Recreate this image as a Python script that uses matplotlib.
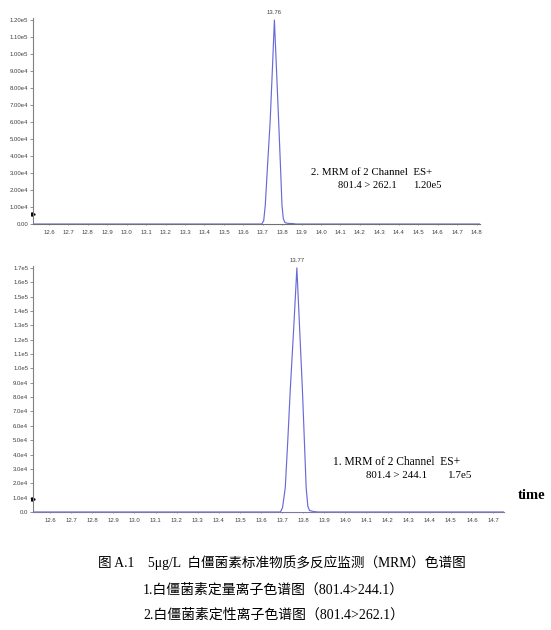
import numpy as np
import matplotlib
matplotlib.use('Agg')
import matplotlib.pyplot as plt

plt.rcParams['font.family'] = ['Liberation Sans', 'Noto Sans CJK SC']

# 通道2：801.4 > 262.1（定性离子）
top_time = [12.52, 13.695, 13.705, 13.713, 13.725, 13.738, 13.75, 13.76, 13.77,
            13.782, 13.792, 13.799, 13.806, 13.815, 13.83, 13.86, 13.87, 14.82]
top_signal = [0, 0, 2.0e3, 1.1e4, 3.5e4, 6.0e4, 9.2e4, 1.2e5, 9.3e4,
              6.0e4, 3.2e4, 1.1e4, 3.0e3, 8.0e2, 4.0e2, 2.0e2, 0, 0]
top_yticks = np.arange(0, 1.21e5, 1e4)
top_ylabels = ['0.00'] + ['%.2fe4' % (v / 1e4) for v in top_yticks[1:10]] + \
              ['%.2fe5' % (v / 1e5) for v in top_yticks[10:]]
top_xticks = np.round(np.arange(12.6, 14.85, 0.1), 1)

# 通道1：801.4 > 244.1（定量离子）
bot_time = [12.52, 13.692, 13.702, 13.715, 13.727, 13.739, 13.755, 13.77, 13.783,
            13.796, 13.806, 13.814, 13.822, 13.83, 13.85, 13.87, 14.76]
bot_signal = [0, 0, 3.0e3, 1.7e4, 5.0e4, 8.6e4, 1.28e5, 1.7e5, 1.28e5,
              8.6e4, 4.8e4, 1.7e4, 4.0e3, 1.0e3, 3.0e2, 0, 0]
bot_yticks = np.arange(0, 1.71e5, 1e4)
bot_ylabels = ['0.0'] + ['%.1fe4' % (v / 1e4) for v in bot_yticks[1:10]] + \
              ['%.1fe5' % (v / 1e5) for v in bot_yticks[10:]]
bot_xticks = np.round(np.arange(12.6, 14.75, 0.1), 1)

# 纵轴上的小标记
marker_level = [6.0e3, 9.0e3]

line_color = '#6a6ad6'
tick_color = '#404040'

fig = plt.figure(figsize=(5.51, 6.30), dpi=100)
ax1 = fig.add_axes([0.0599, 0.6444, 0.8113, 0.327])
ax2 = fig.add_axes([0.0599, 0.1873, 0.8548, 0.3897])


def setup_axis(ax, t, s, xlim, ylim, xticks, yticks, ylabels, xcolor):
    ax.plot(t, s, color=line_color, lw=0.85)
    ax.set_xlim(*xlim)
    ax.set_ylim(*ylim)
    ax.set_xticks(xticks)
    ax.set_xticklabels(['%.1f' % v for v in xticks])
    ax.set_yticks(yticks)
    ax.set_yticklabels(ylabels)
    for sp in ['top', 'right']:
        ax.spines[sp].set_visible(False)
    ax.spines['left'].set_color('#808080')
    ax.spines['bottom'].set_color(xcolor)
    ax.spines['left'].set_linewidth(0.8)
    ax.spines['bottom'].set_linewidth(0.8)
    ax.tick_params(axis='y', length=2, width=0.6, color='#808080', pad=1.5,
                   labelsize=4.3, labelcolor=tick_color)
    ax.tick_params(axis='x', length=1, width=0.5, color=xcolor, pad=3,
                   labelsize=4.3, labelcolor=tick_color)
    # 峰顶保留时间
    i = int(np.argmax(s))
    ax.annotate('%.2f' % t[i], (t[i], s[i]), xytext=(0, 3.5),
                textcoords='offset points', ha='center', va='bottom',
                fontsize=4.3, color=tick_color)


setup_axis(ax1, top_time, top_signal, (12.518, 14.818), (0, 1.212e5),
           top_xticks, top_yticks, top_ylabels, '#707070')
setup_axis(ax2, bot_time, bot_signal, (12.519, 14.752), (0, 1.71e5),
           bot_xticks, bot_yticks, bot_ylabels, '#7a7aa0')

ax1.plot([ax1.get_xlim()[0]], [marker_level[0]], marker='>', ms=2.5,
         color='black', clip_on=False)
ax2.plot([ax2.get_xlim()[0]], [marker_level[1]], marker='>', ms=2.5,
         color='black', clip_on=False)

serif = ['Liberation Serif', 'Noto Sans CJK SC']
ax1.text(0.622, 0.252, '2. MRM of 2 Channel  ES+', transform=ax1.transAxes,
         family=serif, fontsize=7.8, va='center', ha='left')
ax1.text(0.682, 0.189, '801.4 > 262.1', transform=ax1.transAxes,
         family=serif, fontsize=7.6, va='center', ha='left')
ax1.text(0.850, 0.189, '%.2fe5' % (max(top_signal) / 1e5), transform=ax1.transAxes,
         family=serif, fontsize=7.6, va='center', ha='left')

ax2.text(0.637, 0.204, '1. MRM of 2 Channel  ES+', transform=ax2.transAxes,
         family=serif, fontsize=8.3, va='center', ha='left')
ax2.text(0.707, 0.147, '801.4 > 244.1', transform=ax2.transAxes,
         family=serif, fontsize=7.9, va='center', ha='left')
ax2.text(0.881, 0.147, '%.1fe5' % (max(bot_signal) / 1e5), transform=ax2.transAxes,
         family=serif, fontsize=7.9, va='center', ha='left')

fig.text(0.964, 0.2127, 'time', family=serif, fontsize=10.5, fontweight='bold',
         ha='center', va='center')

# 图注
fig.text(0.512, 0.1063, '图 A.1    5μg/L  白僵菌素标准物质多反应监测（MRM）色谱图',
         family=serif, fontsize=9.8, ha='center', va='center')
fig.text(0.2595, 0.0635, '1.白僵菌素定量离子色谱图（801.4>244.1）',
         family=serif, fontsize=10, ha='left', va='center')
fig.text(0.2595, 0.0238, '2.白僵菌素定性离子色谱图（801.4>262.1）',
         family=serif, fontsize=10, ha='left', va='center')

fig.savefig('out.png', dpi=100)
